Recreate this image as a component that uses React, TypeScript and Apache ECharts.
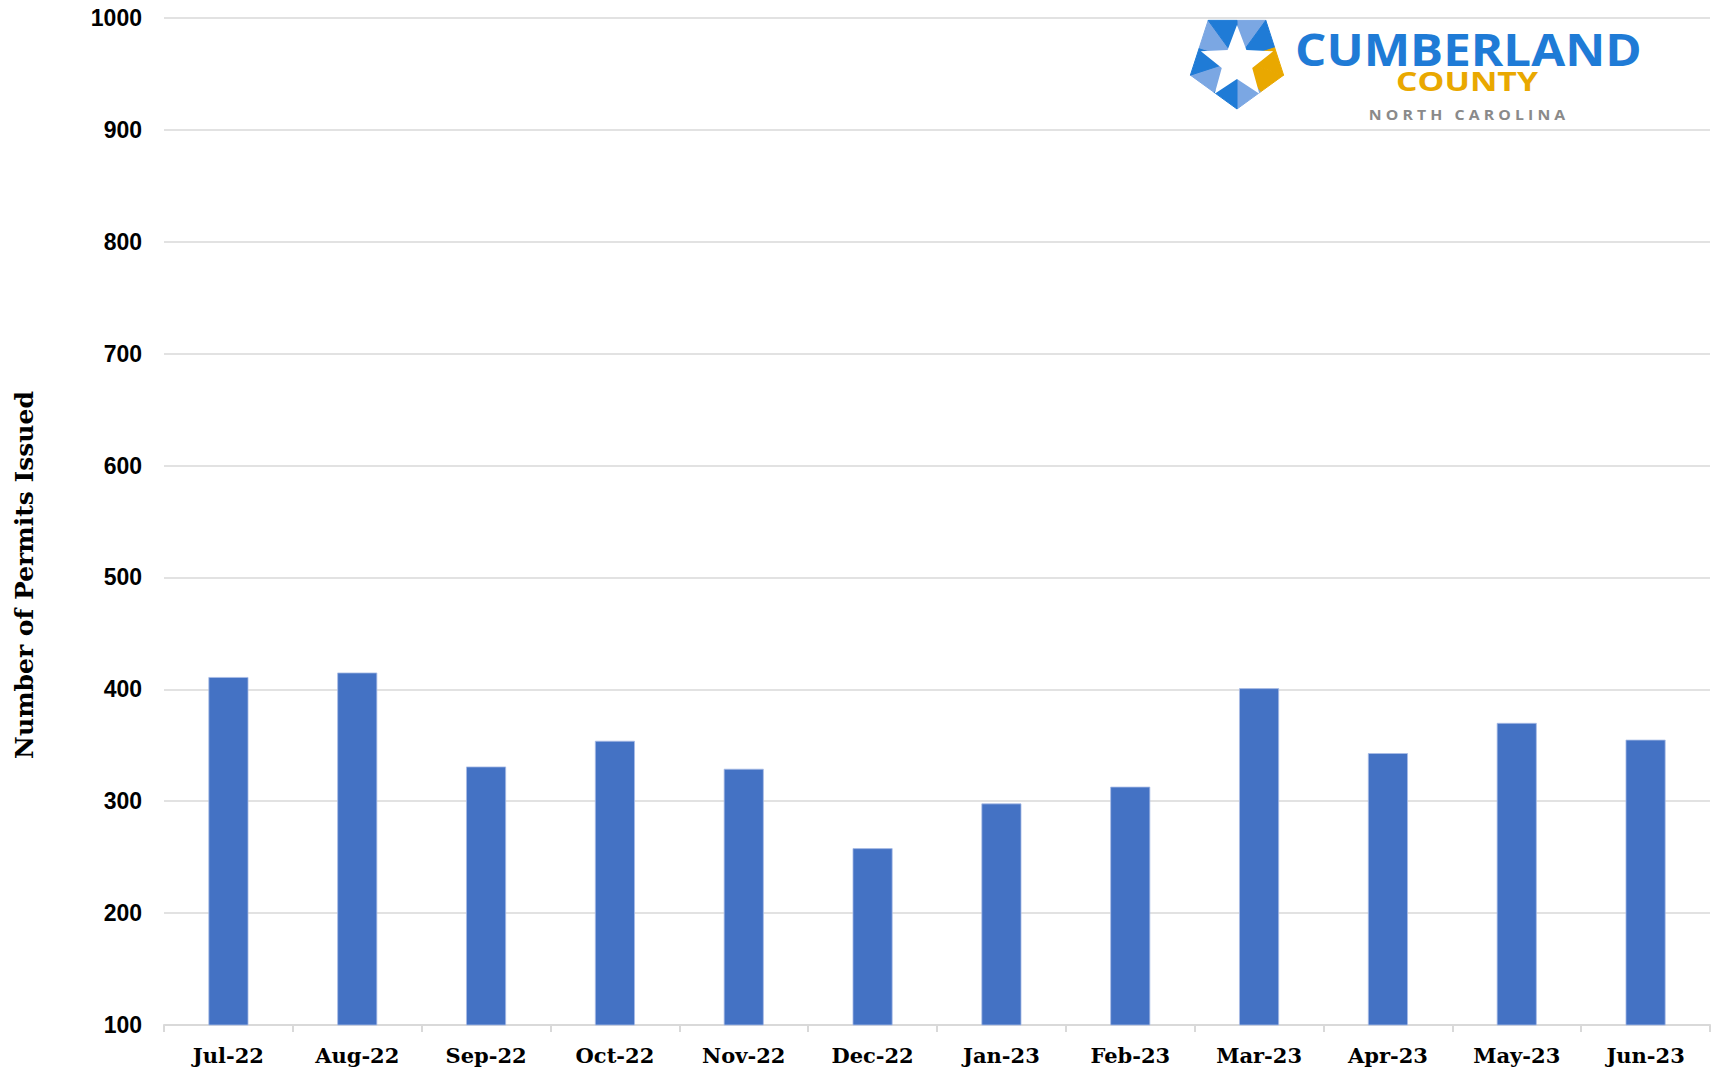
import React, { useEffect, useRef } from "react";
import * as echarts from "echarts";

const months = ["Jul-22", "Aug-22", "Sep-22", "Oct-22", "Nov-22", "Dec-22", "Jan-23", "Feb-23", "Mar-23", "Apr-23", "May-23", "Jun-23"];
const permits = [411, 415, 331, 354, 329, 258, 298, 313, 401, 343, 370, 355];
const yTicks = { min: 100, max: 1000, interval: 100 };
const yTitle = "Number of Permits Issued";
const logoTitle = "CUMBERLAND";
const logoSub = "COUNTY";
const logoState = "N O R T H   C A R O L I N A";

function logoGraphics() {
  const cx = 1237, cy = 60, R = 49;
  const dark = "#1f7bd6", light = "#7ba7e3", gold = "#e9a800";
  const pt = (deg: number, r: number, ox = cx, oy = cy) => [ox + r * Math.cos((deg * Math.PI) / 180), oy + r * Math.sin((deg * Math.PI) / 180)];
  const apo = R * Math.cos(Math.PI / 5);
  const sectors: [number, number, boolean, string][] = [
    [-90, -54, false, light],
    [-54, -18, true, dark],
    [-18, 18, false, gold],
    [18, 54, true, gold],
    [54, 90, false, light],
    [90, 126, true, dark],
    [126, 162, false, light],
    [162, 198, true, dark],
    [198, 234, false, light],
    [234, 270, true, dark],
  ];
  const els: any[] = sectors.map(([a, b, startVertex, color]) => {
    const p1 = startVertex ? pt(a, R) : pt(a, apo);
    const p2 = startVertex ? pt(b, apo) : pt(b, R);
    return { type: "polygon", shape: { points: [[cx, cy], p1, p2] }, style: { fill: color, stroke: color, lineWidth: 1, lineJoin: "round" } };
  });
  const scx = 1237, scy = 63, ro = 38, ri = 16;
  const star: number[][] = [];
  for (let i = 0; i < 10; i++) {
    const deg = -90 + i * 36;
    star.push(pt(deg, i % 2 === 0 ? ro : ri, scx, scy));
  }
  els.push({ type: "polygon", shape: { points: star }, style: { fill: "#ffffff" } });
  els.push({
    type: "text", x: 1295, y: 49, scaleX: 1.12,
    style: { text: logoTitle, x: 0, y: 0, fill: "#1f7bd6", font: "bold 44px 'Open Sans'", verticalAlign: "middle", align: "left" },
  });
  els.push({
    type: "text", x: 1467, y: 80, scaleX: 1.25,
    style: { text: logoSub, x: 0, y: 0, fill: "#e9a800", font: "bold 27px 'Open Sans'", verticalAlign: "middle", align: "center" },
  });
  els.push({
    type: "text", x: 1467, y: 114, scaleX: 1.13,
    style: { text: logoState, x: 0, y: 0, fill: "#8a8a8a", font: "bold 14px 'Open Sans'", verticalAlign: "middle", align: "center" },
  });
  return els;
}

export default function App() {
  const ref = useRef<HTMLDivElement>(null);
  useEffect(() => {
    if (!ref.current) return;
    const chart = echarts.init(ref.current, undefined, { renderer: "svg" });
    chart.setOption({
      animation: false,
      backgroundColor: "#ffffff",
      grid: { left: 164, right: 10, top: 18, bottom: 50, containLabel: false },
      xAxis: {
        type: "category",
        data: months,
        axisLine: { lineStyle: { color: "#d9d9d9", width: 2 } },
        axisTick: { show: true, length: 7, lineStyle: { color: "#d9d9d9", width: 2 } },
        axisLabel: { color: "#000000", fontFamily: "'DejaVu Serif'", fontWeight: "bold", fontSize: 21, margin: 20 },
      },
      yAxis: {
        type: "value",
        min: yTicks.min,
        max: yTicks.max,
        interval: yTicks.interval,
        axisLine: { show: false },
        axisTick: { show: false },
        splitLine: { lineStyle: { color: "#d9d9d9", width: 1.5 } },
        axisLabel: { color: "#000000", fontFamily: "'Liberation Sans'", fontWeight: "bold", fontSize: 23, margin: 22, formatter: (v: number) => String(v) },
      },
      series: [
        {
          type: "bar",
          data: permits,
          barWidth: 40,
          itemStyle: { color: "#4472c4", borderColor: "#a9bde6", borderWidth: 0.8 },
        },
      ],
      graphic: [
        {
          type: "text", x: 24, y: 575, rotation: Math.PI / 2,
          style: { text: yTitle, x: 0, y: 0, fill: "#000000", font: "bold 25px 'DejaVu Serif'", align: "center", verticalAlign: "middle" },
        },
        ...logoGraphics(),
      ],
    });
    return () => chart.dispose();
  }, []);
  return <div ref={ref} style={{ position: "fixed", left: 0, top: 0, width: 1720, height: 1075 }} />;
}
